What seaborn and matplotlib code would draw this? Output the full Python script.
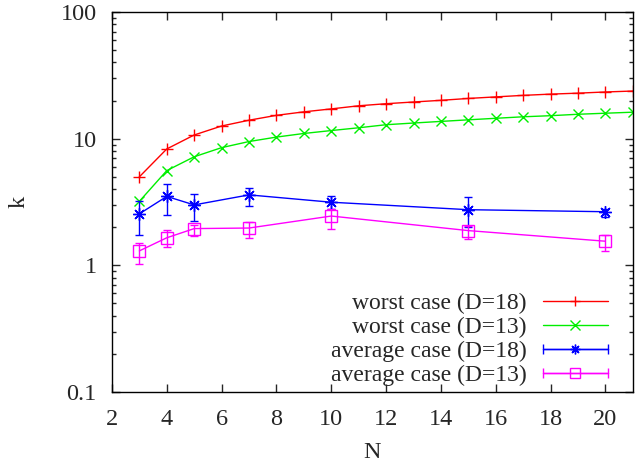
import numpy as np
import pandas as pd
import matplotlib
matplotlib.use("Agg")
import matplotlib.pyplot as plt
from matplotlib.lines import Line2D
from matplotlib.legend_handler import HandlerLine2D
import seaborn as sns

# Worst case results, one value per N
n_worst = [3, 4, 5, 6, 7, 8, 9, 10, 11, 12, 13, 14, 15, 16, 17, 18, 19, 20, 21]
worst_d18 = [5.0, 8.3, 10.7, 12.6, 14.0, 15.3, 16.3, 17.2, 18.2, 18.9, 19.5, 20.1,
             20.8, 21.4, 22.0, 22.5, 22.9, 23.4, 23.8]
worst_d13 = [3.2, 5.6, 7.2, 8.5, 9.5, 10.3, 11.0, 11.6, 12.2, 12.9, 13.3, 13.7,
             14.1, 14.5, 14.9, 15.2, 15.6, 15.9, 16.2]

# Average case results with error bars
n_avg = [3, 4, 5, 7, 10, 15, 20]
avg_d18 = [2.55, 3.5, 3.0, 3.6, 3.15, 2.75, 2.65]
avg_d18_lo = [1.75, 2.5, 2.25, 2.95, 2.8, 2.0, 2.4]
avg_d18_hi = [3.25, 4.35, 3.65, 4.1, 3.5, 3.45, 2.8]
avg_d13 = [1.3, 1.65, 1.95, 1.97, 2.45, 1.88, 1.55]
avg_d13_lo = [1.02, 1.4, 1.7, 1.65, 1.95, 1.62, 1.3]
avg_d13_hi = [1.5, 1.9, 2.1, 2.2, 2.8, 2.05, 1.75]

labels = ["worst case (D=18)", "worst case (D=13)",
          "average case (D=18)", "average case (D=13)"]
colors = ["#ff0000", "#00ee00", "#0000ff", "#ff00ff"]
markers = ["+", "x", (8, 2, 0), "s"]

sns.set_style("ticks")
plt.rcParams['font.family'] = ['Liberation Serif', 'DejaVu Serif']

fig = plt.figure(figsize=(6.36, 4.66), dpi=100)
ax = fig.add_axes([0.176, 0.159, 0.819, 0.815])

worst = pd.DataFrame({"N": n_worst, "D18": worst_d18, "D13": worst_d13})
sns.lineplot(data=worst, x="N", y="D18", ax=ax, color=colors[0], lw=1,
             marker=markers[0], markersize=8, mew=1, mec=colors[0], legend=False)
sns.lineplot(data=worst, x="N", y="D13", ax=ax, color=colors[1], lw=1,
             marker=markers[1], markersize=7, mew=1, mec=colors[1], legend=False)

a18 = np.array(avg_d18)
a13 = np.array(avg_d13)
ax.errorbar(n_avg, a18, yerr=[a18 - np.array(avg_d18_lo), np.array(avg_d18_hi) - a18],
            color=colors[2], lw=1, elinewidth=1, capsize=3, marker=markers[2],
            markersize=9, mew=1)
ax.errorbar(n_avg, a13, yerr=[a13 - np.array(avg_d13_lo), np.array(avg_d13_hi) - a13],
            color=colors[3], lw=1, elinewidth=1, capsize=3, marker=markers[3],
            markersize=8, mfc="none", mew=1)

ax.set_yscale("log")
ax.set_ylim(0.1, 100)
ax.set_xlim(2, 21)
ax.set_xticks(range(2, 21, 2))
ax.set_yticks([0.1, 1, 10, 100])
ax.set_yticklabels(["0.1", "1", "10", "100"])
ax.tick_params(which="both", direction="in", top=True, right=True, labelsize=17.5)
ax.tick_params(which="major", length=6, width=1)
ax.tick_params(which="minor", length=3, width=1)
ax.tick_params(axis="x", which="minor", bottom=False, top=False)
ax.tick_params(axis="x", pad=12)
ax.tick_params(axis="y", pad=11)
for s in ax.spines.values():
    s.set_linewidth(1)
    s.set_color("black")

ax.set_xlabel("N", fontsize=17.5, labelpad=9)
ax.set_ylabel("k", fontsize=17.5, labelpad=22)

# legend: line with centre marker, error-bar entries get end caps
handles = []
hmap = {}
for i in range(4):
    main = Line2D([], [], color=colors[i], lw=1, marker=markers[i],
                  markersize=7, mew=1, mfc="none")
    if i >= 2:
        caps = Line2D([], [], color=colors[i], lw=1, marker="|",
                      markersize=7, mew=1)
        hmap[caps] = HandlerLine2D(numpoints=2, marker_pad=0)
        handles.append((caps, main))
    else:
        handles.append(main)

leg = ax.legend(handles, labels, handler_map=hmap, loc="lower right",
                bbox_to_anchor=(0.952, 0.016), frameon=False, fontsize=17,
                markerfirst=False, handlelength=2.75, handletextpad=0.7,
                labelspacing=0.1, borderpad=0, borderaxespad=0)
leg._legend_box._children[-1]._children[0].align = "right"

fig.savefig("out.png", dpi=100)
